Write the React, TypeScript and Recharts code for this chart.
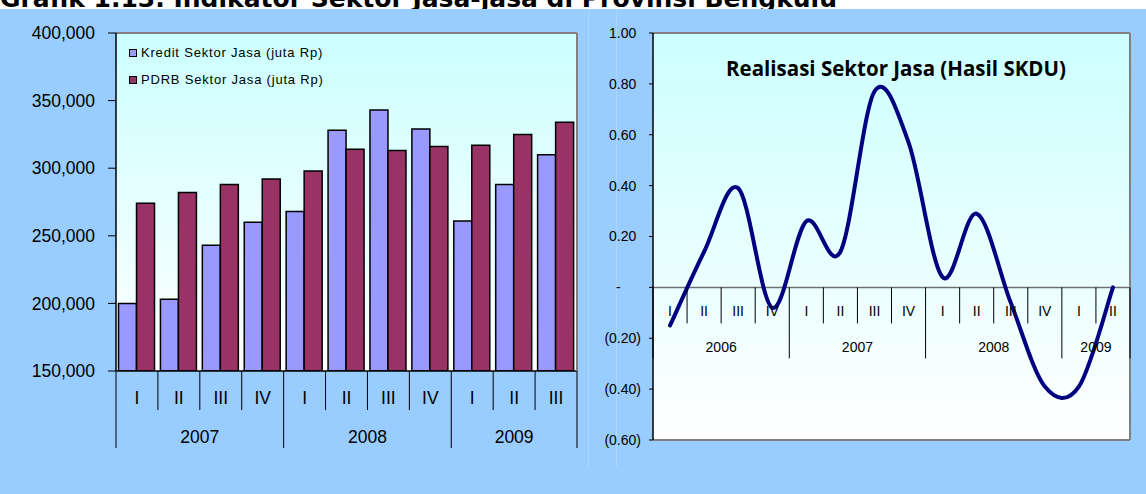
import React from 'react';
import { Bar, BarChart, CartesianGrid, Legend, Line, LineChart, ReferenceLine, XAxis, YAxis } from 'recharts';

// Kredit vs PDRB sektor jasa, per kuartal
const barQuarters = ['I', 'II', 'III', 'IV', 'I', 'II', 'III', 'IV', 'I', 'II', 'III'];
const barYears = ['2007', '2007', '2007', '2007', '2008', '2008', '2008', '2008', '2009', '2009', '2009'];
const kreditJasa = [200000, 203000, 243000, 260000, 268000, 328000, 343000, 329000, 261000, 288000, 310000];
const pdrbJasa = [274000, 282000, 288000, 292000, 298000, 314000, 313000, 316000, 317000, 325000, 334000];
const barTicks = [150000, 200000, 250000, 300000, 350000, 400000];

// Realisasi SKDU sektor jasa (saldo bersih)
const skduQuarters = ['I', 'II', 'III', 'IV', 'I', 'II', 'III', 'IV', 'I', 'II', 'III', 'IV', 'I', 'II'];
const skduYears = ['2006', '2006', '2006', '2006', '2007', '2007', '2007', '2007', '2008', '2008', '2008', '2008', '2009', '2009'];
const skduValues = [-0.15, 0.14, 0.39, -0.08, 0.26, 0.14, 0.77, 0.57, 0.04, 0.29, -0.06, -0.39, -0.39, 0.0];
const skduTicks = [-0.6, -0.4, -0.2, 0, 0.2, 0.4, 0.6, 0.8, 1.0];

const barData = barQuarters.map((q, i) => ({ q, kredit: kreditJasa[i], pdrb: pdrbJasa[i] }));
const skduData = skduQuarters.map((q, i) => ({ q, skdu: skduValues[i] }));

const FONT = '"Liberation Sans", Arial, sans-serif';
const PANEL = '#99CCFF';
const BORDER = '#808080';
const seriesColors: Record<string, string> = { kredit: '#9999FF', pdrb: '#993366' };

// bar chart frame
const BAR_W = 588;
const BAR_H = 494;
const BAR_MARGIN = { top: 32, right: 10, left: 0, bottom: 43 };
const BAR_YAXIS_W = 116;
const BAR_XAXIS_H = 80;
const EDGE = 1;
const BAR_BAND = (BAR_W - BAR_MARGIN.left - BAR_MARGIN.right - BAR_YAXIS_W - EDGE) / barQuarters.length;

// line chart frame
const LINE_W = 558;
const LINE_H = 494;
const LINE_MARGIN = { top: 32, right: 15, left: 0, bottom: 53 };
const LINE_YAXIS_W = 65;
const LINE_XAXIS_H = 1;
const LINE_PLOT_H = LINE_H - LINE_MARGIN.top - EDGE - LINE_MARGIN.bottom - LINE_XAXIS_H;
const LINE_BAND = (LINE_W - LINE_MARGIN.left - LINE_MARGIN.right - LINE_YAXIS_W - EDGE) / skduQuarters.length;
const SKDU_MIN = -0.6;
const SKDU_MAX = 1.0;
const ZERO_RISE = (LINE_PLOT_H * (0 - SKDU_MIN)) / (SKDU_MAX - SKDU_MIN);

// Excel-style smoothed line (Catmull-Rom through every point)
const smoothCurve = (context: any) => {
  let pts: [number, number][] = [];
  return {
    areaStart() {},
    areaEnd() {},
    lineStart() {
      pts = [];
    },
    lineEnd() {
      const n = pts.length;
      if (!n) return;
      context.moveTo(pts[0][0], pts[0][1]);
      for (let i = 0; i < n - 1; i++) {
        const p0 = pts[Math.max(i - 1, 0)];
        const p1 = pts[i];
        const p2 = pts[i + 1];
        const p3 = pts[Math.min(i + 2, n - 1)];
        context.bezierCurveTo(
          p1[0] + (p2[0] - p0[0]) / 6,
          p1[1] + (p2[1] - p0[1]) / 6,
          p2[0] - (p3[0] - p1[0]) / 6,
          p2[1] - (p3[1] - p1[1]) / 6,
          p2[0],
          p2[1],
        );
      }
    },
    point(x: number, y: number) {
      pts.push([+x, +y]);
    },
  };
};

type GroupTickProps = {
  x?: number;
  y?: number;
  index?: number;
  payload?: { value: string };
  years: string[];
  band: number;
  rise: number;
  shortLen: number;
  longLen: number;
  qDy: number;
  yDy: number;
  fontSize: number;
};

// two-level category label: quarter on top, year underneath, with separators
const GroupTick = ({ x = 0, y = 0, index = 0, payload, years, band, rise, shortLen, longLen, qDy, yDy, fontSize }: GroupTickProps) => {
  const y0 = y - rise;
  const year = years[index];
  const first = index === 0 || years[index - 1] !== year;
  const last = index === years.length - 1;
  const count = years.filter((v) => v === year).length;
  const left = x - band / 2;
  const right = x + band / 2;
  return (
    <g>
      <line x1={left} x2={left} y1={y0} y2={y0 + (first ? longLen : shortLen)} stroke="#000" strokeWidth={1} />
      {last && <line x1={right} x2={right} y1={y0} y2={y0 + longLen} stroke="#000" strokeWidth={1} />}
      <text x={x} y={y0 + qDy} textAnchor="middle" dominantBaseline="central" fontSize={fontSize} fill="#000">
        {payload?.value}
      </text>
      {first && (
        <text x={x + ((count - 1) / 2) * band} y={y0 + yDy} textAnchor="middle" dominantBaseline="central" fontSize={fontSize} fill="#000">
          {year}
        </text>
      )}
    </g>
  );
};

// accounting-style labels: 0.80 / - / (0.20)
const SkduYTick = ({ x = 0, y = 0, payload }: any) => {
  const v = payload?.value as number;
  const paren = 4.7;
  const digit = 7.8;
  let text = v.toFixed(2);
  let ax = x - paren;
  if (Math.abs(v) < 1e-9) {
    text = '-';
    ax = x - paren - 2 * digit;
  } else if (v < 0) {
    text = `(${Math.abs(v).toFixed(2)})`;
    ax = x;
  }
  return (
    <text x={ax} y={y} dy="0.355em" textAnchor="end" fontSize={14} fill="#000">
      {text}
    </text>
  );
};

const BarLegend = ({ payload }: any) => (
  <div style={{ fontFamily: FONT }}>
    {(payload ?? []).map((it: any) => (
      <div key={it.value} style={{ display: 'flex', alignItems: 'center', height: 27, fontSize: 13, letterSpacing: 0.8, color: '#000', whiteSpace: 'nowrap' }}>
        <span
          style={{
            display: 'inline-block',
            width: 6,
            height: 6,
            border: '1px solid #000',
            background: seriesColors[it.dataKey] ?? it.color,
            marginRight: 4,
          }}
        />
        {it.value}
      </div>
    ))}
  </div>
);

const KreditChart = () => (
  <BarChart width={BAR_W} height={BAR_H} data={barData} margin={BAR_MARGIN} barCategoryGap="6%" barGap={0}>
    <defs>
      <linearGradient id="plotFillL" x1="0" y1="0" x2="0" y2="1">
        <stop offset="0%" stopColor="#CCFFFF" />
        <stop offset="100%" stopColor="#FFFFFF" />
      </linearGradient>
    </defs>
    <CartesianGrid horizontal={false} vertical={false} fill="url(#plotFillL)" stroke="none" />
    <XAxis
      dataKey="q"
      height={BAR_XAXIS_H}
      interval={0}
      tickSize={0}
      tickMargin={0}
      tickLine={false}
      axisLine={{ stroke: '#000', strokeWidth: 1.5 }}
      tick={(p: any) => (
        <GroupTick {...p} years={barYears} band={BAR_BAND} rise={0} shortLen={39} longLen={77} qDy={27} yDy={66} fontSize={17.5} />
      )}
    />
    <XAxis xAxisId="top" dataKey="q" orientation="top" height={EDGE} tick={false} tickLine={false} axisLine={{ stroke: BORDER, strokeWidth: 2 }} />
    <YAxis
      width={BAR_YAXIS_W}
      domain={[150000, 400000]}
      ticks={barTicks}
      allowDataOverflow
      tickSize={8}
      tickMargin={13}
      tickLine={{ stroke: '#000' }}
      axisLine={{ stroke: '#000', strokeWidth: 1.5 }}
      tick={{ fontSize: 17.5, fill: '#000' }}
      tickFormatter={(v: number) => v.toLocaleString('en-US')}
    />
    <YAxis yAxisId="edge" orientation="right" width={EDGE} domain={[0, 1]} tick={false} tickLine={false} axisLine={{ stroke: BORDER, strokeWidth: 2 }} />
    <Legend
      layout="vertical"
      align="center"
      verticalAlign="middle"
      content={BarLegend}
      wrapperStyle={{ top: 39, left: 129, width: 'auto' }}
    />
    <Bar dataKey="kredit" name="Kredit Sektor Jasa (juta Rp)" fill="#9999FF" stroke="#000" strokeWidth={1.5} isAnimationActive={false} />
    <Bar dataKey="pdrb" name="PDRB Sektor Jasa (juta Rp)" fill="#993366" stroke="#000" strokeWidth={1.5} isAnimationActive={false} />
  </BarChart>
);

const SkduChart = () => (
  <LineChart width={LINE_W} height={LINE_H} data={skduData} margin={LINE_MARGIN}>
    <defs>
      <linearGradient id="plotFillR" x1="0" y1="0" x2="0" y2="1">
        <stop offset="0%" stopColor="#CCFFFF" />
        <stop offset="100%" stopColor="#FFFFFF" />
      </linearGradient>
    </defs>
    <CartesianGrid horizontal={false} vertical={false} fill="url(#plotFillR)" stroke="none" />
    <XAxis
      dataKey="q"
      height={LINE_XAXIS_H}
      padding={{ left: LINE_BAND / 2, right: LINE_BAND / 2 }}
      interval={0}
      tickSize={0}
      tickMargin={0}
      tickLine={false}
      axisLine={{ stroke: BORDER, strokeWidth: 2 }}
      tick={(p: any) => (
        <GroupTick {...p} years={skduYears} band={LINE_BAND} rise={ZERO_RISE} shortLen={36} longLen={71} qDy={24} yDy={60} fontSize={14} />
      )}
    />
    <XAxis xAxisId="top" dataKey="q" orientation="top" height={EDGE} tick={false} tickLine={false} axisLine={{ stroke: BORDER, strokeWidth: 2 }} />
    <YAxis
      width={LINE_YAXIS_W}
      domain={[SKDU_MIN, SKDU_MAX]}
      ticks={skduTicks}
      allowDataOverflow
      tickSize={4}
      tickMargin={8}
      tickLine={{ stroke: '#000' }}
      axisLine={{ stroke: '#000', strokeWidth: 1.5 }}
      tick={SkduYTick}
    />
    <YAxis yAxisId="edge" orientation="right" width={EDGE} domain={[0, 1]} tick={false} tickLine={false} axisLine={{ stroke: BORDER, strokeWidth: 2 }} />
    <ReferenceLine y={0} stroke="#6f6f6f" strokeWidth={1.5} />
    <Line
      dataKey="skdu"
      type={smoothCurve as any}
      stroke="#000080"
      strokeWidth={4}
      strokeLinecap="round"
      strokeLinejoin="round"
      dot={false}
      isAnimationActive={false}
    />
  </LineChart>
);

export default function App() {
  return (
    <div style={{ position: 'absolute', left: 0, top: 0, width: 1146, height: 494, background: '#fff', overflow: 'hidden', fontFamily: FONT }}>
      <svg width={1146} height={12} style={{ position: 'absolute', left: 0, top: 0 }}>
        <text x={0} y={7} fontFamily='"DejaVu Sans", sans-serif' fontWeight={700} fontSize={25} fill="#000">
          Grafik 1.13.  Indikator Sektor Jasa-jasa di Provinsi Bengkulu
        </text>
      </svg>
      <div style={{ position: 'absolute', left: 0, top: 9, width: 1146, height: 485, background: PANEL }} />
      <div style={{ position: 'absolute', left: 588, top: 9, width: 1, height: 459, background: '#a9d5ff' }} />
      <div style={{ position: 'absolute', left: 616, top: 9, width: 1, height: 459, background: '#a9d5ff' }} />
      <div style={{ position: 'absolute', left: 0, top: 0 }}>
        <KreditChart />
      </div>
      <div style={{ position: 'absolute', left: 588, top: 0 }}>
        <SkduChart />
        <div
          style={{
            position: 'absolute',
            left: 308,
            top: 55,
            transform: 'translateX(-50%)',
            whiteSpace: 'nowrap',
            fontFamily: '"Open Sans", sans-serif',
            fontWeight: 700,
            fontSize: 20.5,
            lineHeight: '26px',
            color: '#000',
          }}
        >
          Realisasi Sektor Jasa (Hasil SKDU)
        </div>
      </div>
    </div>
  );
}
